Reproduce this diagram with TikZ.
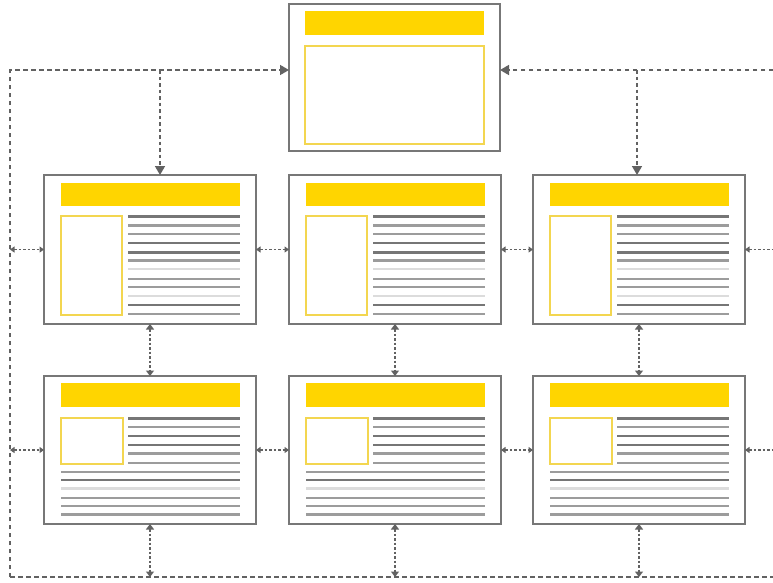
\documentclass[tikz,border=0pt]{standalone}
\usetikzlibrary{arrows.meta}
\definecolor{bordergray}{HTML}{777777}
\definecolor{barfill}{HTML}{FFD500}
\definecolor{yline}{HTML}{F3D650}
\definecolor{dgray}{HTML}{626262}
\definecolor{lone}{HTML}{767676}
\definecolor{ltwo}{HTML}{9C9C9C}
\definecolor{lthree}{HTML}{DCDCDC}
\newcommand\rowonepage[3]{%
  \node[pagebox, minimum width=212pt, minimum height=149pt] (#1) at (#2,#3) {};
  \begin{scope}[shift={(#2,#3)}]
    \fill[fill=barfill] (17,8) rectangle (196,31);
    \draw[imgbox] (17,41) rectangle (78,140);
    \foreach \yy/\cc in {41.5/lone,50.5/ltwo,59/ltwo,68/lone,77.5/lone,85.5/ltwo,94/lthree,104/ltwo,112/ltwo,121/lthree,130/lone,139/ltwo}
      \draw[txtline,draw=\cc] (84,\yy) -- (196,\yy);
  \end{scope}}
\newcommand\rowtwopage[3]{%
  \node[pagebox, minimum width=212pt, minimum height=148pt] (#1) at (#2,#3) {};
  \begin{scope}[shift={(#2,#3)}]
    \fill[fill=barfill] (17,7) rectangle (196,31);
    \draw[imgbox] (17,42) rectangle (79,88);
    \foreach \yy/\cc in {42.3/lone,50.7/ltwo,59.7/lone,69/lone,77.3/ltwo,86.7/ltwo}
      \draw[txtline,draw=\cc] (84,\yy) -- (196,\yy);
    \foreach \yy/\cc in {95.7/ltwo,104/lone,112.3/lthree,121.7/ltwo,130/ltwo,138.3/ltwo}
      \draw[txtline,draw=\cc] (17,\yy) -- (196,\yy);
  \end{scope}}
\begin{document}
\begin{tikzpicture}[x=1pt,y=-1pt,
  pagebox/.style={draw=bordergray, line width=1.8pt, fill=white, inner sep=0pt, outer sep=0pt, anchor=north west},
  imgbox/.style={draw=yline, line width=1.3pt},
  txtline/.style={line width=2.4pt},
  longdash/.style={draw=dgray, line width=1.6pt, dash pattern=on 4.5pt off 3.5pt},
  middash/.style={draw=dgray, line width=1.5pt, dash pattern=on 3.5pt off 3pt},
  shortdash/.style={draw=dgray, line width=1.4pt, dash pattern=on 2.5pt off 2pt},
  bigtip/.tip={Triangle[length=9pt,width=10pt]},
  smalltip/.tip={Triangle[length=4.5pt,width=6pt]},
  vtip/.tip={Triangle[length=5.5pt,width=8pt]}
]
\useasboundingbox[fill=white] (0,0) rectangle (773,582);

% top page
\node[pagebox, minimum width=211pt, minimum height=147pt] (t) at (289,4) {};
\fill[fill=barfill] (305,11) rectangle (484,35);
\draw[imgbox] (305,46) rectangle (484,144);

% pages
\rowonepage{a1}{44}{175}
\rowonepage{b1}{289}{175}
\rowonepage{c1}{533}{175}
\rowtwopage{a2}{44}{376}
\rowtwopage{b2}{289}{376}
\rowtwopage{c2}{533}{376}

% frame coordinates
\coordinate (tl) at (10,70);
\coordinate (tr) at (773,70);
\coordinate (bl) at (10,577);
\coordinate (br) at (773,577);
\coordinate (d1) at (160,70);
\coordinate (d2) at (637,70);

% long dashed frame
\draw[longdash,-{bigtip}] (bl) -- (tl) -- (tl -| t.west);
\draw[longdash,-{bigtip}] (tr) -- (tr -| t.east);
\draw[longdash] (bl) -- (br);

% from frame to first row
\draw[middash,-{bigtip}] (d1) -- (d1 |- a1.north);
\draw[middash,-{bigtip}] (d2) -- (d2 |- c1.north);

% horizontal links
\foreach \p in {1,2}{
  \draw[shortdash,{smalltip}-{smalltip}] (a\p.west -| tl) -- (a\p.west);
  \draw[shortdash,{smalltip}-{smalltip}] (a\p.east) -- (b\p.west);
  \draw[shortdash,{smalltip}-{smalltip}] (b\p.east) -- (c\p.west);
  \draw[shortdash,{smalltip}-] (c\p.east) -- (c\p.east -| tr);
}

% vertical links
\foreach \n in {a,b,c}{
  \draw[shortdash,{vtip}-{vtip}] (\n1.south) -- (\n2.north);
  \draw[shortdash,{vtip}-{vtip}] (\n2.south) -- (\n2.south |- bl);
}
\end{tikzpicture}
\end{document}
